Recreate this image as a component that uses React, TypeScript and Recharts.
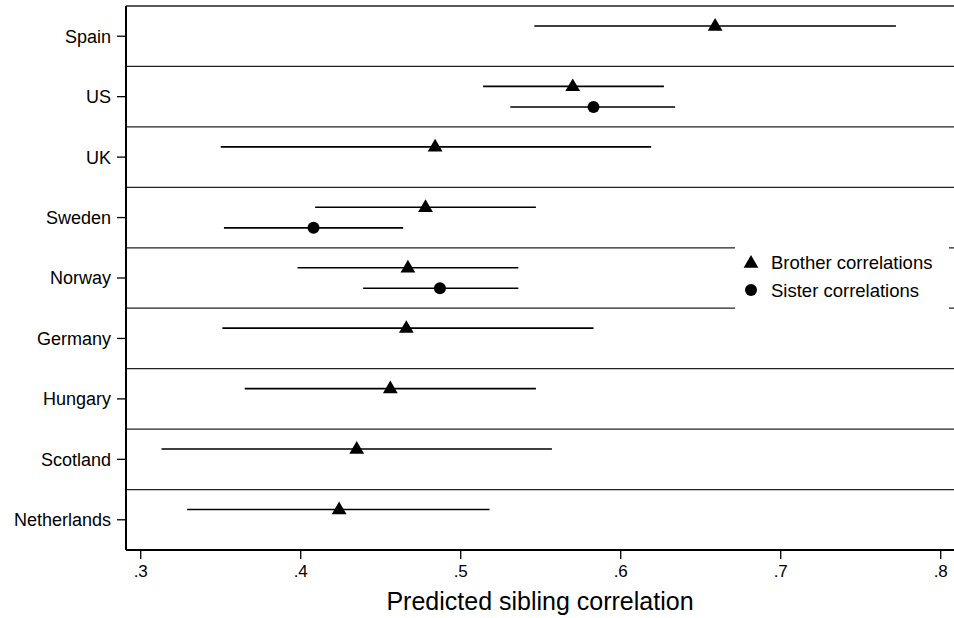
import { ScatterChart, Scatter, XAxis, YAxis, ErrorBar, ReferenceLine, Legend, Label } from 'recharts';

const countries = ['Spain', 'US', 'UK', 'Sweden', 'Norway', 'Germany', 'Hungary', 'Scotland', 'Netherlands'];

// brother correlations (estimate, lower and upper bound)
const brotherEst = [0.659, 0.570, 0.484, 0.478, 0.467, 0.466, 0.456, 0.435, 0.424];
const brotherLo = [0.546, 0.514, 0.350, 0.409, 0.398, 0.351, 0.365, 0.313, 0.329];
const brotherHi = [0.772, 0.627, 0.619, 0.547, 0.536, 0.583, 0.547, 0.557, 0.518];

// sister correlations, only for a few countries
const sisterEst = [null, 0.583, null, 0.408, 0.487, null, null, null, null];
const sisterLo = [null, 0.531, null, 0.352, 0.439, null, null, null, null];
const sisterHi = [null, 0.634, null, 0.464, 0.536, null, null, null, null];

const xTicks = [0.3, 0.4, 0.5, 0.6, 0.7, 0.8];

const FONT = '"Liberation Sans", Arial, Helvetica, sans-serif';
const rowCenter = (i: number) => countries.length - 0.5 - i;
const OFFSET = 0.17;

const brotherData = countries.map((c, i) => ({
  name: c,
  x: brotherEst[i],
  y: rowCenter(i) + OFFSET,
  err: [brotherEst[i] - brotherLo[i], brotherHi[i] - brotherEst[i]],
}));

const sisterData = countries
  .map((c, i) => ({ c, i }))
  .filter(({ i }) => sisterEst[i] !== null)
  .map(({ c, i }) => ({
    name: c,
    x: sisterEst[i] as number,
    y: rowCenter(i) - OFFSET,
    err: [(sisterEst[i] as number) - (sisterLo[i] as number), (sisterHi[i] as number) - (sisterEst[i] as number)],
  }));

const Triangle = ({ cx, cy }: any) => (
  <path d={`M${cx},${cy - 8} L${cx - 7.4},${cy + 4.7} L${cx + 7.4},${cy + 4.7} Z`} fill="#000" />
);

const Dot = ({ cx, cy }: any) => <circle cx={cx} cy={cy} r={6} fill="#000" />;

const LegendBox = () => (
  <div style={{ background: '#fff', width: 214, height: 72 }}>
    <svg width={214} height={72} style={{ display: 'block' }}>
      <Triangle cx={16} cy={20} />
      <text x={36} y={25.5} fontSize={18.5} fontFamily={FONT} fill="#000">Brother correlations</text>
      <Dot cx={16} cy={47} />
      <text x={36} y={53.5} fontSize={18.5} fontFamily={FONT} fill="#000">Sister correlations</text>
    </svg>
  </div>
);

export default function App() {
  return (
    <div style={{ position: 'absolute', left: 0, top: 0, background: '#fff' }}>
      <ScatterChart width={954} height={618} margin={{ top: 6, right: 0, bottom: 0, left: 0 }}>
        <XAxis
          type="number"
          dataKey="x"
          domain={[0.2908, 0.8083]}
          allowDataOverflow
          ticks={xTicks}
          tickFormatter={(v: number) => v.toFixed(1).replace(/^0/, '')}
          height={68}
          tickSize={9}
          tickMargin={6}
          axisLine={{ stroke: '#000', strokeWidth: 2 }}
          tickLine={{ stroke: '#000', strokeWidth: 1.3 }}
          tick={{ fill: '#000', fontSize: 17, fontFamily: FONT }}
        >
          <Label
            value="Predicted sibling correlation"
            position="insideBottom"
            offset={8}
            style={{ fill: '#000', fontSize: 25, fontFamily: FONT }}
          />
        </XAxis>
        <YAxis
          type="number"
          dataKey="y"
          domain={[0, 9]}
          ticks={countries.map((_, i) => rowCenter(i))}
          tickFormatter={(v: number) => countries[Math.round(countries.length - 0.5 - v)]}
          width={126}
          tickSize={9}
          tickMargin={6}
          interval={0}
          axisLine={{ stroke: '#000', strokeWidth: 2 }}
          tickLine={{ stroke: '#000', strokeWidth: 1.3 }}
          tick={{ fill: '#000', fontSize: 18, fontFamily: FONT }}
        />
        {[1, 2, 3, 4, 5, 6, 7, 8, 9].map((v) => (
          <ReferenceLine key={v} y={v} stroke="#222" strokeWidth={1.3} />
        ))}
        <Scatter data={brotherData} shape={(p: any) => <Triangle cx={p.cx} cy={p.cy} />} isAnimationActive={false}>
          <ErrorBar dataKey="err" direction="x" width={0} stroke="#000" strokeWidth={1.6} isAnimationActive={false} />
        </Scatter>
        <Scatter data={sisterData} shape={(p: any) => <Dot cx={p.cx} cy={p.cy} />} isAnimationActive={false}>
          <ErrorBar dataKey="err" direction="x" width={0} stroke="#000" strokeWidth={1.6} isAnimationActive={false} />
        </Scatter>
        <Legend
          layout="vertical"
          align="center"
          verticalAlign="middle"
          content={() => <LegendBox />}
          wrapperStyle={{ position: 'absolute', left: 735, top: 243, width: 214, height: 72 }}
        />
      </ScatterChart>
    </div>
  );
}
